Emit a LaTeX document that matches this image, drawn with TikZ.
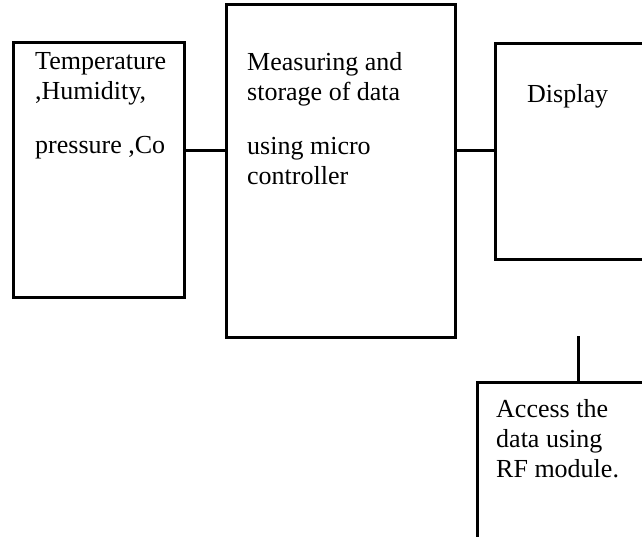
\documentclass[tikz,border=0pt]{standalone}
\usepackage{fontspec}
\setmainfont{Liberation Serif}
\usetikzlibrary{positioning}
\begin{document}
\begin{tikzpicture}[x=1pt,y=-1pt,
	blk/.style={draw,line width=3pt,inner sep=0pt,outer sep=0pt,anchor=north west},
	txt/.style={align=left,inner sep=0pt,font=\fontsize{26pt}{30pt}\selectfont},
	wire/.style={line width=3pt}]
		\useasboundingbox (0,0) rectangle (642,537);
		\clip (0,0) rectangle (642,537);

		\node[blk,minimum width=171pt,minimum height=254pt] (sens) at (13,43) {};
		\node[blk,minimum width=229pt,minimum height=332pt] (meas) at (226,5) {};
		\node[blk,minimum width=220pt,minimum height=216pt] (disp) at (495,44) {};
		\node[blk,minimum width=220pt,minimum height=220pt] (rf) at (477,382) {};

		\node[txt,below right=9pt and 22pt of sens.north west] (senstxt) {Temperature\\,Humidity,\\[24pt]pressure ,Co};
		\node[txt,below right=47pt and 21pt of meas.north west] (meastxt) {Measuring and\\storage of data\\[24pt]using micro\\controller};
		\node[txt,below right=40pt and 32pt of disp.north west] (disptxt) {Display};
		\node[txt,below right=17pt and 19pt of rf.north west] (rftxt) {Access the\\data using\\RF module.};

		% links
		\coordinate (lvl) at (0,151);
		\draw[wire] (sens.east |- lvl) -- (meas.west |- lvl);
		\draw[wire] (meas.east |- lvl) -- (disp.west |- lvl);
		\coordinate (rfup) at (578,336);
		\draw[wire] (rfup) -- (rfup |- rf.north);
\end{tikzpicture}
\end{document}
